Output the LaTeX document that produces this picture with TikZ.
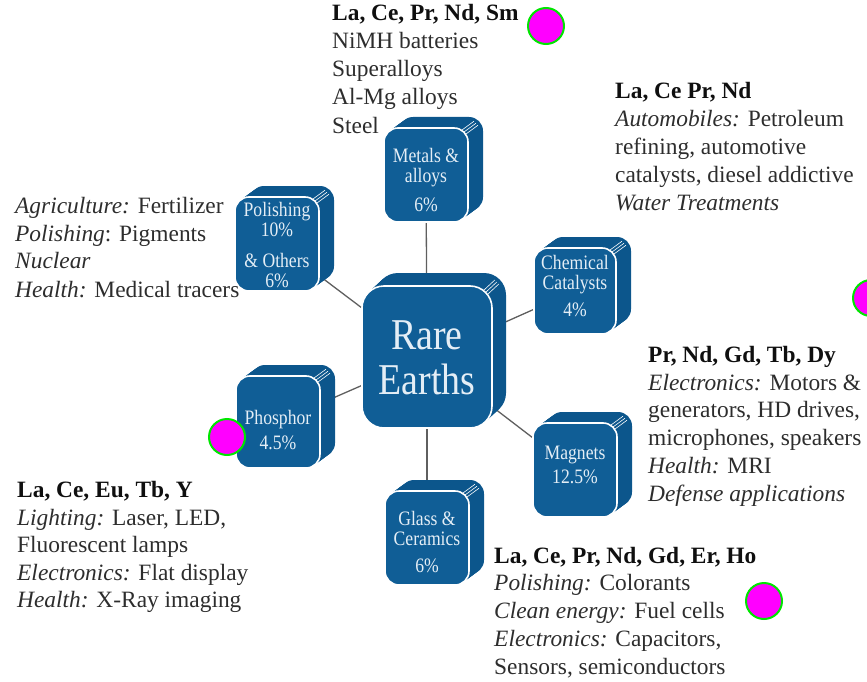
\documentclass[tikz,border=0pt]{standalone}
\usepackage{fontspec}
\setmainfont{Liberation Serif}
\newfontfamily\boxfont[FakeStretch=0.86]{Liberation Serif}
\usetikzlibrary{backgrounds}
\definecolor{boxblue}{RGB}{16,94,150}
\definecolor{boxside}{RGB}{12,86,140}
\definecolor{boxtext}{RGB}{228,238,246}
\definecolor{bodytext}{RGB}{45,45,45}
\definecolor{headtext}{RGB}{15,15,15}
\definecolor{linegray}{RGB}{95,95,95}
\definecolor{dotmag}{RGB}{255,0,255}
\definecolor{dotgreen}{RGB}{0,230,0}
\tikzset{
  front/.style={fill=boxblue, draw=white, line width=1.6pt, inner sep=0pt},
  btext/.style={text=boxtext, align=center, font=\boxfont\fontsize{20.5}{20.5}\selectfont, inner sep=0pt},
  bigtext/.style={text=boxtext, align=center, font=\boxfont\fontsize{44}{45}\selectfont, inner sep=0pt},
  txt/.style={text=bodytext, anchor=base west, inner sep=0pt, font=\fontsize{23.4}{28}\selectfont},
  head/.style={txt, text=headtext, font=\fontsize{23.4}{28}\selectfont\bfseries},
  conn/.style={draw=linegray, line width=1.3pt},
  dot/.style={circle, fill=dotmag, draw=dotgreen, line width=2pt, minimum size=36pt, inner sep=0pt},
}
\newcommand\rebox[8]{% name cx cy w h r dx dy
  \foreach \k in {1,...,10}{
    \fill[boxside, rounded corners=#6pt] ({#2-#4/2+\k*#7/10},{#3-#5/2+\k*#8/10}) rectangle ({#2+#4/2+\k*#7/10},{#3+#5/2+\k*#8/10});
  }
  \node[front, minimum width=#4pt, minimum height=#5pt, rounded corners=#6pt] (#1) at (#2,#3) {};
  \foreach \s in {-2,0,2}{
    \draw[white, line width=0.6pt] ({#2+#4/2-0.29*#6+\s},{#3-#5/2+0.29*#6+\s}) -- ++({0.8*#7},{0.8*#8});
  }
}
\newcommand\txtline[4]{\node[txt] (#1) at (#2,#3) {#4};}
\newcommand\headline[4]{\node[head] (#1) at (#2,#3) {#4};}
\begin{document}
\begin{tikzpicture}[x=1pt,y=-1pt]
\useasboundingbox (0,0) rectangle (867,682);
\clip (0,0) rectangle (867,682);

% boxes
\rebox{metals}{426}{175}{84}{94}{14}{15}{-11}
\rebox{polish}{277}{244}{84}{94}{14}{15}{-11}
\rebox{chem}{575}{291}{82}{86}{14}{15}{-11}
\rebox{core}{427}{357}{130}{142}{22}{14}{-13}
\rebox{phos}{278}{422}{84}{92}{14}{15}{-11}
\rebox{magn}{575}{470}{84}{94}{14}{15}{-11}
\rebox{glass}{427}{538}{84}{94}{14}{15}{-11}

% connectors
\begin{scope}[on background layer]
  \draw[conn] (core) -- (metals);
  \draw[conn] (core) -- (polish);
  \draw[conn] (core) -- (chem);
  \draw[conn] (core) -- (phos);
  \draw[conn] (core) -- (magn);
  \draw[conn] (core) -- (glass);
\end{scope}

% box texts
\node[bigtext] (coret) at (427,358) {Rare\\Earths};
\node[btext] (metalst) at (426,180) {Metals \&\\alloys\\[8pt]6\%};
\node[btext] (polisht) at (277,245) {Polishing\\10\%\\[10pt]\& Others\\6\%};
\node[btext] (chemt) at (575,286) {Chemical\\Catalysts\\[6pt]4\%};
\node[btext] (phost) at (278,430) {Phosphor\\[5pt]4.5\%};
\node[btext] (magnt) at (575,465) {Magnets\\[4pt]12.5\%};
\node[btext] (glasst) at (427,542) {Glass \&\\Ceramics\\[6pt]6\%};

% text block top
\headline{a0}{332}{21}{La, Ce, Pr, Nd, Sm}
\txtline{a1}{332}{49}{NiMH batteries}
\txtline{a2}{332}{77}{Superalloys}
\txtline{a3}{332}{105}{Al-Mg alloys}
\txtline{a4}{332}{133}{Steel}

% text block top right
\headline{b0}{615}{99}{La, Ce Pr, Nd}
\txtline{b1}{615}{127}{\textit{Automobiles:} Petroleum}
\txtline{b2}{615}{154}{refining, automotive}
\txtline{b3}{615}{182}{catalysts, diesel addictive}
\txtline{b4}{615}{210}{\textit{Water Treatments}}

% text block left
\txtline{c1}{15}{213}{\textit{Agriculture:} Fertilizer}
\txtline{c2}{15}{241}{\textit{Polishing}: Pigments}
\txtline{c3}{15}{268}{\textit{Nuclear}}
\txtline{c4}{15}{297}{\textit{Health:} Medical tracers}

% text block right
\headline{d0}{648}{362}{Pr, Nd, Gd, Tb, Dy}
\txtline{d1}{648}{390}{\textit{Electronics:} Motors \&}
\txtline{d2}{648}{417}{generators, HD drives,}
\txtline{d3}{648}{445}{microphones, speakers}
\txtline{d4}{648}{473}{\textit{Health:} MRI}
\txtline{d5}{648}{501}{\textit{Defense applications}}

% text block bottom left
\headline{e0}{17}{497}{La, Ce, Eu, Tb, Y}
\txtline{e1}{17}{525}{\textit{Lighting:} Laser, LED,}
\txtline{e2}{17}{552}{Fluorescent lamps}
\txtline{e3}{17}{580}{\textit{Electronics:} Flat display}
\txtline{e4}{17}{607}{\textit{Health:} X-Ray imaging}

% text block bottom right
\headline{f0}{494}{563}{La, Ce, Pr, Nd, Gd, Er, Ho}
\txtline{f1}{494}{590}{\textit{Polishing:} Colorants}
\txtline{f2}{494}{618}{\textit{Clean energy:} Fuel cells}
\txtline{f3}{494}{646}{\textit{Electronics:} Capacitors,}
\txtline{f4}{494}{674}{Sensors, semiconductors}

% marker dots
\node[dot] (dot1) at (546,26) {};
\node[dot] (dot2) at (871,298) {};
\node[dot] (dot3) at (227,437) {};
\node[dot] (dot4) at (764,601) {};
\end{tikzpicture}
\end{document}
